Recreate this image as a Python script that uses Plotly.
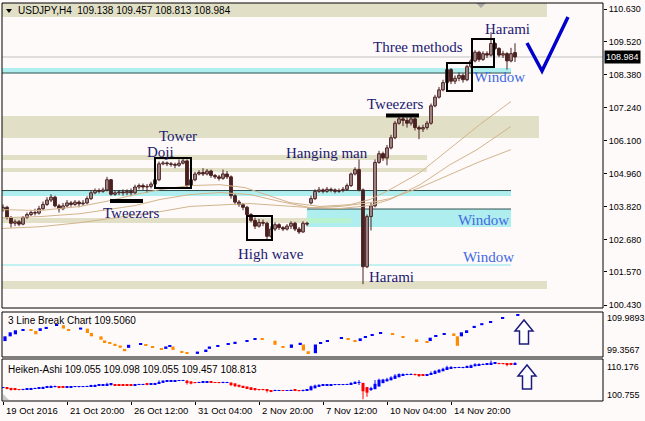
import plotly.graph_objects as go

W, H = 645, 421
ML, MR, MT, MB = 2, 42, 3, 20
PW = W - ML - MR
PH = H - MT - MB

def fx(px):
    return (px - ML) / PW

def fy(py):
    return (H - MB - py) / PH

# ---------------- data ----------------
title_text = "USDJPY,H4  109.138 109.457 108.813 108.984"
lb_title = "3 Line Break Chart 109.5060"
ha_title = "Heiken-Ashi 109.055 109.098 109.055 109.457 108.813"

opens = [103.72,103.80,103.45,103.25,103.30,103.22,103.45,103.55,103.62,103.60,
         103.75,103.90,104.05,104.15,103.85,103.75,103.85,103.95,103.90,103.98,
         103.92,103.95,104.10,104.30,104.38,104.35,104.40,104.75,104.25,104.30,
         104.33,104.30,104.35,104.30,104.50,104.55,104.50,104.52,104.60,104.75,
         105.30,105.33,105.30,105.28,105.25,105.32,105.40,104.55,104.75,104.95,
         105.00,104.95,105.05,104.90,104.85,104.80,104.95,104.85,104.20,103.98,
         103.90,103.80,103.55,103.35,103.15,103.28,103.25,102.80,103.05,103.20,
         103.10,103.05,103.15,103.25,103.05,102.95,103.25,103.95,104.10,104.35,
         104.40,104.35,104.42,104.40,104.35,104.38,104.42,104.55,104.95,105.10,
         104.40,101.75,103.48,103.85,105.35,105.65,105.50,105.85,106.20,106.70,
         106.85,106.80,106.70,106.85,106.55,106.50,106.55,106.70,107.30,107.60,
         107.85,108.10,108.55,108.15,108.25,108.35,108.20,108.65,108.85,109.15,
         108.90,109.10,109.05,109.45,109.28,109.05,109.10,108.85,109.138]
highs = [103.90,103.85,103.50,103.38,103.36,103.50,103.62,103.70,103.75,103.85,
         104.00,104.15,104.25,104.20,103.92,103.95,104.05,104.02,104.05,104.04,
         104.05,104.18,104.38,104.45,104.45,104.48,104.85,104.78,104.38,104.40,
         104.42,104.42,104.45,104.58,104.62,104.62,104.60,104.68,104.82,105.38,
         105.40,105.38,105.36,105.34,105.45,105.50,105.45,104.82,105.02,105.08,
         105.15,105.12,105.10,104.95,104.92,105.10,105.05,104.90,104.25,104.05,
         103.95,103.85,103.60,103.45,103.40,103.38,103.30,103.15,103.28,103.25,
         103.15,103.22,103.32,103.30,103.12,103.32,103.30,104.20,104.42,104.50,
         104.45,104.50,104.48,104.45,104.45,104.50,104.62,105.00,105.18,105.45,
         104.45,103.55,103.95,105.45,105.75,105.72,105.95,106.30,106.78,106.95,
         106.95,106.90,106.95,106.90,106.62,106.65,106.78,107.38,107.68,107.95,
         108.20,108.65,108.60,108.35,108.45,108.42,108.72,108.92,109.22,109.20,
         109.18,109.18,109.84,109.50,109.32,109.20,109.15,109.30,109.457]
lows = [103.65,103.38,103.10,103.15,103.15,103.18,103.40,103.50,103.52,103.55,
        103.70,103.85,103.98,103.80,103.62,103.70,103.80,103.82,103.85,103.80,
        103.85,103.90,104.05,104.25,104.28,104.30,104.35,104.20,104.20,104.22,
        104.20,104.22,104.18,104.25,104.42,104.40,104.30,104.45,104.55,104.70,
        105.25,105.22,105.20,105.15,105.20,105.28,104.45,104.50,104.70,104.90,
        104.88,104.90,104.82,104.78,104.72,104.75,104.78,104.10,103.90,103.82,
        103.70,103.45,103.28,103.05,103.10,103.15,102.65,102.75,102.98,103.02,
        102.98,103.00,103.05,102.98,102.88,102.92,103.15,103.90,104.05,104.30,
        104.28,104.30,104.32,104.28,104.30,104.32,104.38,104.50,104.90,104.35,
        101.15,101.70,103.00,103.80,105.30,105.40,105.25,105.80,106.15,106.65,
        106.60,106.55,106.62,106.45,106.15,106.40,106.48,106.65,107.25,107.55,
        107.80,108.05,108.05,108.05,108.15,108.10,108.15,108.60,108.80,108.82,
        108.85,108.95,109.00,109.22,108.98,108.95,108.55,108.80,108.813]
closes = [103.80,103.45,103.25,103.30,103.22,103.45,103.55,103.62,103.60,103.75,
          103.90,104.05,104.15,103.85,103.75,103.85,103.95,103.90,103.98,103.92,
          103.95,104.10,104.30,104.38,104.35,104.40,104.75,104.25,104.30,104.33,
          104.30,104.35,104.30,104.50,104.55,104.50,104.52,104.60,104.75,105.30,
          105.33,105.30,105.28,105.25,105.32,105.40,104.55,104.75,104.95,105.00,
          104.95,105.05,104.90,104.85,104.80,104.95,104.85,104.20,103.98,103.90,
          103.80,103.55,103.35,103.15,103.28,103.25,102.80,103.05,103.20,103.10,
          103.05,103.15,103.25,103.05,102.95,103.25,103.22,104.10,104.35,104.40,
          104.35,104.42,104.40,104.35,104.38,104.42,104.55,104.95,105.10,104.40,
          101.75,103.48,103.85,105.35,105.65,105.50,105.85,106.20,106.70,106.85,
          106.80,106.70,106.85,106.55,106.50,106.55,106.70,107.30,107.60,107.85,
          108.10,108.55,108.15,108.25,108.35,108.20,108.65,108.85,109.15,108.90,
          109.10,109.05,109.45,109.28,109.05,109.10,108.85,109.10,108.984]
bar_idx = list(range(len(closes)))
last_price = 108.984

# moving averages (bar index, value)
ma1_x = [-0.25, 9.25, 19.25, 26.75, 33, 39.25, 46.75, 54.25, 60.5, 65.5, 71.75, 79.25, 86.75, 91.75, 96.75, 104.25, 112.25, 119.25, 127]
ma1_y = [103.72, 103.69, 103.83, 104.03, 104.24, 104.41, 104.55, 104.58, 104.48, 104.24, 103.96, 103.83, 103.89, 104.07, 104.41, 105.00, 105.90, 106.66, 107.45]
ma2_x = [-0.25, 9.25, 19.25, 26.75, 33, 39.25, 46.75, 54.25, 61.75, 69.25, 76.75, 84.25, 91.75, 96.75, 104.25, 111.75, 118.5, 127]
ma2_y = [103.44, 103.48, 103.58, 103.72, 103.86, 104.07, 104.24, 104.31, 104.24, 104.00, 103.79, 103.76, 103.86, 104.07, 104.58, 105.27, 105.79, 106.59]
ma3_x = [-0.25, 9.25, 19.25, 26.75, 33, 39.25, 46.75, 54.25, 61.75, 69.25, 76.75, 84.25, 91.75, 96.75, 104.25, 111.75, 119.25, 127]
ma3_y = [103.07, 103.13, 103.27, 103.41, 103.51, 103.65, 103.83, 103.89, 103.93, 103.86, 103.79, 103.83, 103.96, 104.10, 104.48, 104.93, 105.38, 105.79]

# price axis
y_ticks = [110.630, 109.520, 108.380, 107.240, 106.100, 104.960, 103.820, 102.680, 101.570, 100.430]
y_range = [100.327, 110.847]
x_range = [-0.25, 150.0]

# time axis
time_idx = [0, 16, 32, 48, 64, 80, 96, 112]
time_labels = ["19 Oct 2016", "21 Oct 20:00", "26 Oct 12:00", "31 Oct 04:00",
               "2 Nov 20:00", "7 Nov 12:00", "10 Nov 04:00", "14 Nov 20:00"]

# support / resistance zones
zones_x_end = [136, 127, 134, 106, 106, 127, 76, 127, 136]
zones_lo = [110.364, 108.432, 106.190, 105.431, 105.017, 104.189, 103.258, 103.120, 100.982]
zones_hi = [110.847, 108.605, 106.949, 105.604, 105.155, 104.379, 103.431, 103.741, 101.258]
zones_kind = ["sand", "cyan", "sand", "sand", "sand", "cyan", "sand", "cyan", "sand"]
zone_start = [-0.25, -0.25, -0.25, -0.25, -0.25, -0.25, -0.25, 76, -0.25]
lines_level = [108.432, 104.379, 103.741]
lines_start = [-0.25, -0.25, 76]
thin_window = 101.809

# pattern boxes (x0, x1, y0, y1)
boxes = [(38.0, 47.0, 104.466, 105.50), (61.0, 67.25, 102.672, 103.50),
         (111.0, 117.25, 107.811, 108.777), (117.25, 122.75, 108.639, 109.605)]
tweezers = [(26.75, 35.0, 104.017), (95.75, 104.0, 106.966)]

# pattern labels (text, bar index, price, colour kind)
labels_text = ["Tower", "Doji", "Tweezers", "High wave", "Hanging man", "Harami",
               "Window", "Window", "Tweezers", "Three methods", "Window", "Harami"]
labels_x = [43.75, 39.25, 32.0, 67.0, 81.0, 97.0, 120.0, 121.25, 98.0, 103.75, 124.0, 126.0]
labels_y = [106.259, 105.707, 103.603, 102.189, 105.673, 101.396, 103.362, 102.085, 107.363, 109.329, 108.294, 109.950]
labels_kind = ["p", "p", "p", "p", "p", "p", "w", "w", "p", "p", "w", "p"]

# 3 line break bricks
lb_x = [0.5, 1.8, 3.1, 5.0, 7.0, 8.2, 9.3, 10.8, 13.4, 15.1, 16.4, 19.4, 21.1, 22.1, 24.5, 25.4, 26.7, 28.0,
        29.3, 30.4, 31.4, 34.4, 35.7, 37.4, 39.6, 40.7, 41.7, 42.5, 44.7, 46.0, 48.6, 50.7, 51.6, 53.7,
        56.3, 58.0, 61.0, 63.0, 64.8, 68.0, 70.0, 72.1, 74.3, 75.1, 76.3, 78.1, 79.4, 81.1, 84.6, 86.3,
        88.0, 89.3, 90.6, 92.3, 94.4, 97.4, 100.0, 103.4, 106.0, 106.8, 108.2, 110.3, 112.7, 113.6,
        114.6, 115.9, 117.8, 119.7, 121.9, 124.9, 128.7]
lb_lo = [103.12, 104.24, 104.72, 105.67, 105.51, 104.72, 105.51, 106.15, 106.71, 106.07, 105.67, 105.83,
         105.03, 104.24, 103.44, 102.88, 102.48, 102.08, 101.52, 100.72, 101.52, 102.32, 102.00, 101.52,
         101.04, 101.28, 101.84, 101.04, 100.41, 100.09, 100.09, 100.72, 101.28, 101.92, 102.32, 102.64,
         103.12, 103.44, 103.44, 102.24, 101.52, 101.52, 102.32, 100.88, 100.25, 100.25, 102.48, 103.12,
         103.68, 103.44, 102.96, 103.12, 103.92, 104.48, 104.80, 104.56, 103.92, 103.12, 102.88, 103.12,
         104.24, 104.72, 104.48, 102.00, 104.24, 105.03, 106.31, 106.87, 107.51, 108.47, 109.11]
lb_hi = [104.24, 105.19, 105.67, 105.91, 105.83, 105.51, 106.15, 106.47, 106.95, 106.87, 105.99, 106.31,
         106.07, 105.03, 104.24, 103.28, 102.80, 102.48, 102.08, 101.28, 102.24, 102.56, 102.32, 101.76,
         101.28, 101.84, 102.16, 101.84, 100.72, 100.41, 100.64, 101.12, 101.84, 102.16, 102.56, 102.96,
         103.36, 103.68, 103.68, 103.20, 101.92, 102.32, 102.72, 102.32, 100.72, 102.32, 102.88, 103.36,
         103.92, 103.76, 103.28, 103.76, 104.32, 104.72, 105.19, 104.95, 104.24, 103.52, 103.12, 103.92,
         104.56, 104.95, 104.95, 104.24, 105.19, 105.67, 106.71, 107.35, 107.83, 108.79, 109.51]
lb_up = [1, 1, 1, 1, 0, 0, 1, 1, 1, 0, 0, 1, 0, 0, 0, 0, 0, 0, 0, 0, 1, 1, 0, 0, 0, 1, 1, 0, 0, 0,
         1, 1, 1, 1, 1, 1, 1, 1, 0, 0, 0, 1, 1, 0, 0, 1, 1, 1, 1, 0, 0, 1, 1, 1, 1, 0, 0, 0, 0, 1,
         1, 1, 0, 0, 1, 1, 1, 1, 1, 1, 1]
lb_range = [99.3567, 109.9893]
ha_range = [100.755, 110.176]

# ---------------- colours ----------------
BG = "#fffafa"
CANDLE = "#4a2020"
SAND = "#e1e0c6"
CYAN = "#aeeeee"
DARKLINE = "#2f4f4f"
MA_COL = "#d2b48c"
NAVY = "#191970"
WINDOW = "#4169e1"
BLUE = "#0000ff"
ORANGE = "#ff8c00"
RED = "#ff0000"
SANS = "Liberation Sans"
SERIF = "Liberation Serif"

fig = go.Figure()

# candle wicks
wx, wy = [], []
for i in bar_idx:
    wx += [i, i, None]
    wy += [lows[i], highs[i], None]
fig.add_trace(go.Scatter(x=wx, y=wy, mode="lines", line=dict(color=CANDLE, width=1),
                         hoverinfo="skip", showlegend=False, xaxis="x", yaxis="y"))
# candle bodies
body_base, body_h, body_fill = [], [], []
for i in bar_idx:
    lo_b = min(opens[i], closes[i])
    hi_b = max(opens[i], closes[i])
    body_base.append(lo_b)
    body_h.append(max(hi_b - lo_b, 0.012))
    body_fill.append(BG if closes[i] >= opens[i] else CANDLE)
fig.add_trace(go.Bar(x=bar_idx, y=body_h, base=body_base, width=0.7,
                     marker=dict(color=body_fill, line=dict(color=CANDLE, width=1)),
                     showlegend=False, xaxis="x", yaxis="y"))

# moving averages
for mx, my in [(ma1_x, ma1_y), (ma2_x, ma2_y), (ma3_x, ma3_y)]:
    fig.add_trace(go.Scatter(x=mx, y=my, mode="lines", line=dict(color=MA_COL, width=1),
                             showlegend=False, hoverinfo="skip", xaxis="x", yaxis="y"))

# 3 line break
lb_col = [BLUE if u else ORANGE for u in lb_up]
fig.add_trace(go.Bar(x=lb_x, y=[h - l for l, h in zip(lb_lo, lb_hi)], base=lb_lo, width=0.8,
                     marker=dict(color=lb_col, line=dict(width=0)),
                     showlegend=False, xaxis="x", yaxis="y2"))

# Heiken-Ashi computed from the OHLC arrays
ha_o, ha_c, ha_h, ha_l = [], [], [], []
for i in bar_idx:
    c = (opens[i] + highs[i] + lows[i] + closes[i]) / 4
    o = (opens[i] + closes[i]) / 2 if i == 0 else (ha_o[i - 1] + ha_c[i - 1]) / 2
    ha_o.append(o)
    ha_c.append(c)
    ha_h.append(max(highs[i], o, c))
    ha_l.append(min(lows[i], o, c))
for colr, cond in [(RED, lambda i: ha_c[i] < ha_o[i]), (BLUE, lambda i: ha_c[i] >= ha_o[i])]:
    hx, hy = [], []
    for i in bar_idx:
        if cond(i):
            hx += [i, i, None]
            hy += [ha_l[i], ha_h[i], None]
    fig.add_trace(go.Scatter(x=hx, y=hy, mode="lines", line=dict(color=colr, width=1),
                             showlegend=False, hoverinfo="skip", xaxis="x", yaxis="y3"))
ha_base = [min(o, c) for o, c in zip(ha_o, ha_c)]
ha_hgt = [max(abs(c - o), 0.12) for o, c in zip(ha_o, ha_c)]
ha_col = [BLUE if c >= o else RED for o, c in zip(ha_o, ha_c)]
fig.add_trace(go.Bar(x=bar_idx, y=ha_hgt, base=ha_base, width=0.75,
                     marker=dict(color=ha_col, line=dict(width=0)),
                     showlegend=False, xaxis="x", yaxis="y3"))

shapes = []
for xs, xe, lo, hi, kind in zip(zone_start, zones_x_end, zones_lo, zones_hi, zones_kind):
    shapes.append(dict(type="rect", xref="x", yref="y", x0=xs, x1=xe, y0=lo, y1=hi,
                       fillcolor=SAND if kind == "sand" else CYAN, line=dict(width=0), layer="below"))
shapes.append(dict(type="rect", xref="x", yref="y", x0=76, x1=87, y0=zones_lo[6], y1=zones_hi[6],
                   fillcolor="#b8f2cf", line=dict(width=0), layer="below"))
shapes.append(dict(type="line", xref="x", yref="y", x0=-0.25, x1=127, y0=thin_window, y1=thin_window,
                   line=dict(color=CYAN, width=1.5), layer="below"))
for lv, xs in zip(lines_level, lines_start):
    shapes.append(dict(type="line", xref="x", yref="y", x0=xs, x1=127, y0=lv, y1=lv,
                       line=dict(color=DARKLINE, width=1), layer="below"))
shapes.append(dict(type="line", xref="paper", yref="y", x0=0, x1=1, y0=last_price, y1=last_price,
                   line=dict(color="#c0c0c0", width=1), layer="below"))
for x0, x1, y0, y1 in boxes:
    shapes.append(dict(type="rect", xref="x", yref="y", x0=x0, x1=x1, y0=y0, y1=y1,
                       line=dict(color="black", width=2)))
for x0, x1, yv in tweezers:
    shapes.append(dict(type="line", xref="x", yref="y", x0=x0, x1=x1, y0=yv, y1=yv,
                       line=dict(color="black", width=4)))

def path(pts, close=False):
    s = "M " + " L ".join(f"{fx(a):.5f},{fy(b):.5f}" for a, b in pts)
    return s + (" Z" if close else "")

shapes.append(dict(type="path", xref="paper", yref="paper",
                   path=path([(527, 43), (542, 71), (568, 17)]),
                   line=dict(color="#0000cd", width=3.5)))
for ax, ay in [(515, 320), (518, 365)]:
    pts = [(ax, ay + 11), (ax + 9, ay), (ax + 18, ay + 11), (ax + 13.5, ay + 11),
           (ax + 13.5, ay + 24), (ax + 4.5, ay + 24), (ax + 4.5, ay + 11)]
    shapes.append(dict(type="path", xref="paper", yref="paper", path=path(pts, True),
                       fillcolor="white", line=dict(color="#1c1c80", width=1.5)))
shapes.append(dict(type="path", xref="paper", yref="paper",
                   path=path([(476, 3), (486, 3), (481, 8)], True), fillcolor="#a9a9a9", line=dict(width=0)))
shapes.append(dict(type="path", xref="paper", yref="paper",
                   path=path([(6, 9), (12, 9), (9, 13)], True), fillcolor="black", line=dict(width=0)))
shapes.append(dict(type="path", xref="paper", yref="paper",
                   path=path([(3, 394), (3, 400), (9, 400)], True), fillcolor="#c8c8c8", line=dict(width=0)))
for top, bot in [(3, 308), (312, 357), (359, 401)]:
    shapes.append(dict(type="rect", xref="paper", yref="paper", x0=0, x1=1, y0=fy(bot), y1=fy(top),
                       line=dict(color="black", width=1)))

annotations = []
annotations.append(dict(text=title_text, xref="paper", yref="paper", x=fx(16), y=fy(10),
                        xanchor="left", yanchor="middle", showarrow=False,
                        font=dict(family=SANS, size=10, color="black")))
annotations.append(dict(text=lb_title, xref="paper", yref="paper", x=fx(6), y=fy(320),
                        xanchor="left", yanchor="middle", showarrow=False,
                        font=dict(family=SANS, size=10, color="black")))
annotations.append(dict(text=ha_title, xref="paper", yref="paper", x=fx(6), y=fy(369),
                        xanchor="left", yanchor="middle", showarrow=False,
                        font=dict(family=SANS, size=10, color="black")))
for t, x, y, k in zip(labels_text, labels_x, labels_y, labels_kind):
    annotations.append(dict(text=t, xref="x", yref="y", x=x, y=y, showarrow=False,
                            xanchor="center", yanchor="middle",
                            font=dict(family=SERIF, size=15, color=NAVY if k == "p" else WINDOW)))
for ti, tl in zip(time_idx, time_labels):
    annotations.append(dict(text=tl, xref="x", yref="paper", x=ti, y=fy(410), xanchor="left",
                            yanchor="middle", xshift=1, showarrow=False,
                            font=dict(family=SANS, size=9.5, color="black")))
for txt, pyv in [(f"{lb_range[1]:.4f}", 318), (f"{lb_range[0]:.4f}", 350),
                 (f"{ha_range[1]:.3f}", 367), (f"{ha_range[0]:.3f}", 395)]:
    annotations.append(dict(text=txt, xref="paper", yref="paper", x=1, y=fy(pyv), xanchor="left",
                            yanchor="middle", xshift=2, showarrow=False,
                            font=dict(family=SANS, size=9, color="black")))
annotations.append(dict(text=f"{last_price:.3f}", xref="paper", yref="y", x=1, y=last_price,
                        xanchor="left", yanchor="middle", xshift=1, showarrow=False,
                        bgcolor="black", borderpad=1,
                        font=dict(family=SANS, size=9, color="white")))

fig.update_layout(
    width=W, height=H,
    margin=dict(l=ML, r=MR, t=MT, b=MB, pad=0),
    paper_bgcolor=BG, plot_bgcolor=BG,
    barmode="overlay", showlegend=False,
    shapes=shapes, annotations=annotations,
    xaxis=dict(domain=[0, 1], range=x_range, anchor="y3", showgrid=False, zeroline=False,
               showline=False, tickvals=time_idx, ticks="outside", ticklen=3, tickcolor="black",
               showticklabels=False),
    yaxis=dict(domain=[fy(308), fy(3)], range=y_range, side="right", anchor="x",
               tickvals=y_ticks, ticktext=[f"{v:.3f}" for v in y_ticks],
               ticks="outside", ticklen=3, tickcolor="black", showgrid=False, zeroline=False,
               showline=False, tickfont=dict(family=SANS, size=9, color="black")),
    yaxis2=dict(domain=[fy(357), fy(312)], range=lb_range, side="right", anchor="x",
                showticklabels=False, showgrid=False, zeroline=False, ticks=""),
    yaxis3=dict(domain=[fy(401), fy(359)], range=ha_range, side="right", anchor="x",
                showticklabels=False, showgrid=False, zeroline=False, ticks=""),
)

fig.write_html("out.html", config={"displayModeBar": False},
               post_script="document.body.style.margin='0';document.body.style.overflow='hidden';")
